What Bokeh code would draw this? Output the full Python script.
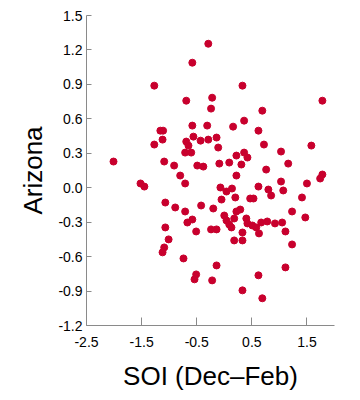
from bokeh.plotting import figure
from bokeh.models import Range1d, FixedTicker, PrintfTickFormatter
from bokeh.embed import file_html
from bokeh.resources import INLINE

soi = [-0.29, -0.58, -1.27, 0.33, -0.69, -0.22, -0.24, 1.78, 0.69, -1.16,
       -1.11, -1.12, -1.27, -1.09, -0.91, -0.80, -2.01, -0.58, -0.31, 0.16,
       0.36, 0.62, -0.56, -0.69, -0.65, -0.43, -0.29, -0.14, -0.11, -0.71,
       -0.60, 0.72, 1.58, 1.03, 0.22, 0.36, 0.42, 0.09, 0.31, -0.09,
       -0.49, -0.38, 1.16, 0.76, 0.22, -0.71, 1.78, 1.74, 1.03, 1.50,
       -0.07, 0.04, 0.14, 0.62, 0.80, 1.07, 0.85, -0.05, 0.20, 0.47,
       0.53, 1.41, -1.52, -1.45, -1.07, -0.89, -0.71, -0.42, -0.20, -0.58,
       -0.67, -1.07, -0.51, -0.24, -0.14, 0.29, 0.22, 1.23, 0.00, 0.04,
       0.18, 1.47, 0.09, 0.13, 0.40, 0.42, 0.51, 0.58, 0.67, 0.78,
       0.92, 1.05, 0.33, 0.63, 1.11, 0.18, 0.33, 1.23, -0.74, -1.01,
       -1.09, -1.12, -0.14, -0.51, -0.54, -0.22, 0.62, 1.11, 0.33, 0.69]
arizona = [1.254, 1.089, 0.889, 0.889, 0.758, 0.784, 0.689, 0.758, 0.671, 0.497,
           0.497, 0.419, 0.376, 0.228, 0.193, 0.106, 0.228, 0.541, 0.541, 0.532,
           0.584, 0.497, 0.445, 0.402, 0.367, 0.410, 0.419, 0.437, 0.350, 0.306,
           0.306, 0.376, 0.367, 0.315, 0.280, 0.306, 0.263, 0.219, 0.202, 0.210,
           0.193, 0.184, 0.210, 0.158, 0.106, 0.037, 0.115, 0.080, 0.054, 0.037,
           0.002, -0.033, -0.007, 0.010, -0.016, -0.024, -0.068, -0.103, -0.085, -0.094,
           -0.094, -0.085, 0.037, 0.010, -0.129, -0.172, -0.207, -0.155, -0.181, -0.277,
           -0.303, -0.346, -0.381, -0.363, -0.363, -0.190, -0.207, -0.207, -0.242, -0.285,
           -0.268, -0.259, -0.320, -0.346, -0.268, -0.311, -0.329, -0.346, -0.303, -0.294,
           -0.311, -0.303, -0.390, -0.398, -0.381, -0.459, -0.459, -0.494, -0.616, -0.450,
           -0.520, -0.563, -0.677, -0.755, -0.798, -0.807, -0.763, -0.694, -0.894, -0.963]

x_ticks = [-2.5, -1.5, -0.5, 0.5, 1.5]
y_ticks = [-1.2, -0.9, -0.6, -0.3, 0.0, 0.3, 0.6, 0.9, 1.2, 1.5]

FONT = "Liberation Sans"
AXIS_COL = "#8a8a8a"

p = figure(width=352, height=400, output_backend="svg", toolbar_location=None,
           x_range=Range1d(-2.5, 2.0), y_range=Range1d(-1.2, 1.5),
           min_border_left=86, min_border_right=18, min_border_top=15,
           min_border_bottom=75)
p.outline_line_color = None
p.xgrid.visible = False
p.ygrid.visible = False

p.scatter(soi, arizona, size=7, fill_color="#C8002D", line_color="#C8002D")

p.xaxis.ticker = FixedTicker(ticks=x_ticks)
p.yaxis.ticker = FixedTicker(ticks=y_ticks)
p.xaxis.formatter = PrintfTickFormatter(format="%.1f")
p.yaxis.formatter = PrintfTickFormatter(format="%.1f")
p.xaxis.minor_tick_line_color = None
p.yaxis.minor_tick_line_color = None

for ax in (p.xaxis, p.yaxis):
    ax.axis_line_color = AXIS_COL
    ax.major_tick_line_color = AXIS_COL
    ax.major_tick_out = 0
    ax.major_label_text_font = FONT
    ax.major_label_text_font_size = "14px"
    ax.major_label_text_color = "black"
    ax.axis_label_text_font = FONT
    ax.axis_label_text_font_size = "26px"
    ax.axis_label_text_font_style = "normal"
    ax.axis_label_text_color = "black"

p.xaxis.major_tick_in = 8
p.yaxis.major_tick_in = 5
p.xaxis.major_label_standoff = 11
p.yaxis.major_label_standoff = 4
p.xaxis.axis_label = "SOI (Dec–Feb)"
p.yaxis.axis_label = "Arizona"
p.xaxis.axis_label_standoff = 11
p.yaxis.axis_label_standoff = 7

open("out.html", "w").write(file_html(p, INLINE))
